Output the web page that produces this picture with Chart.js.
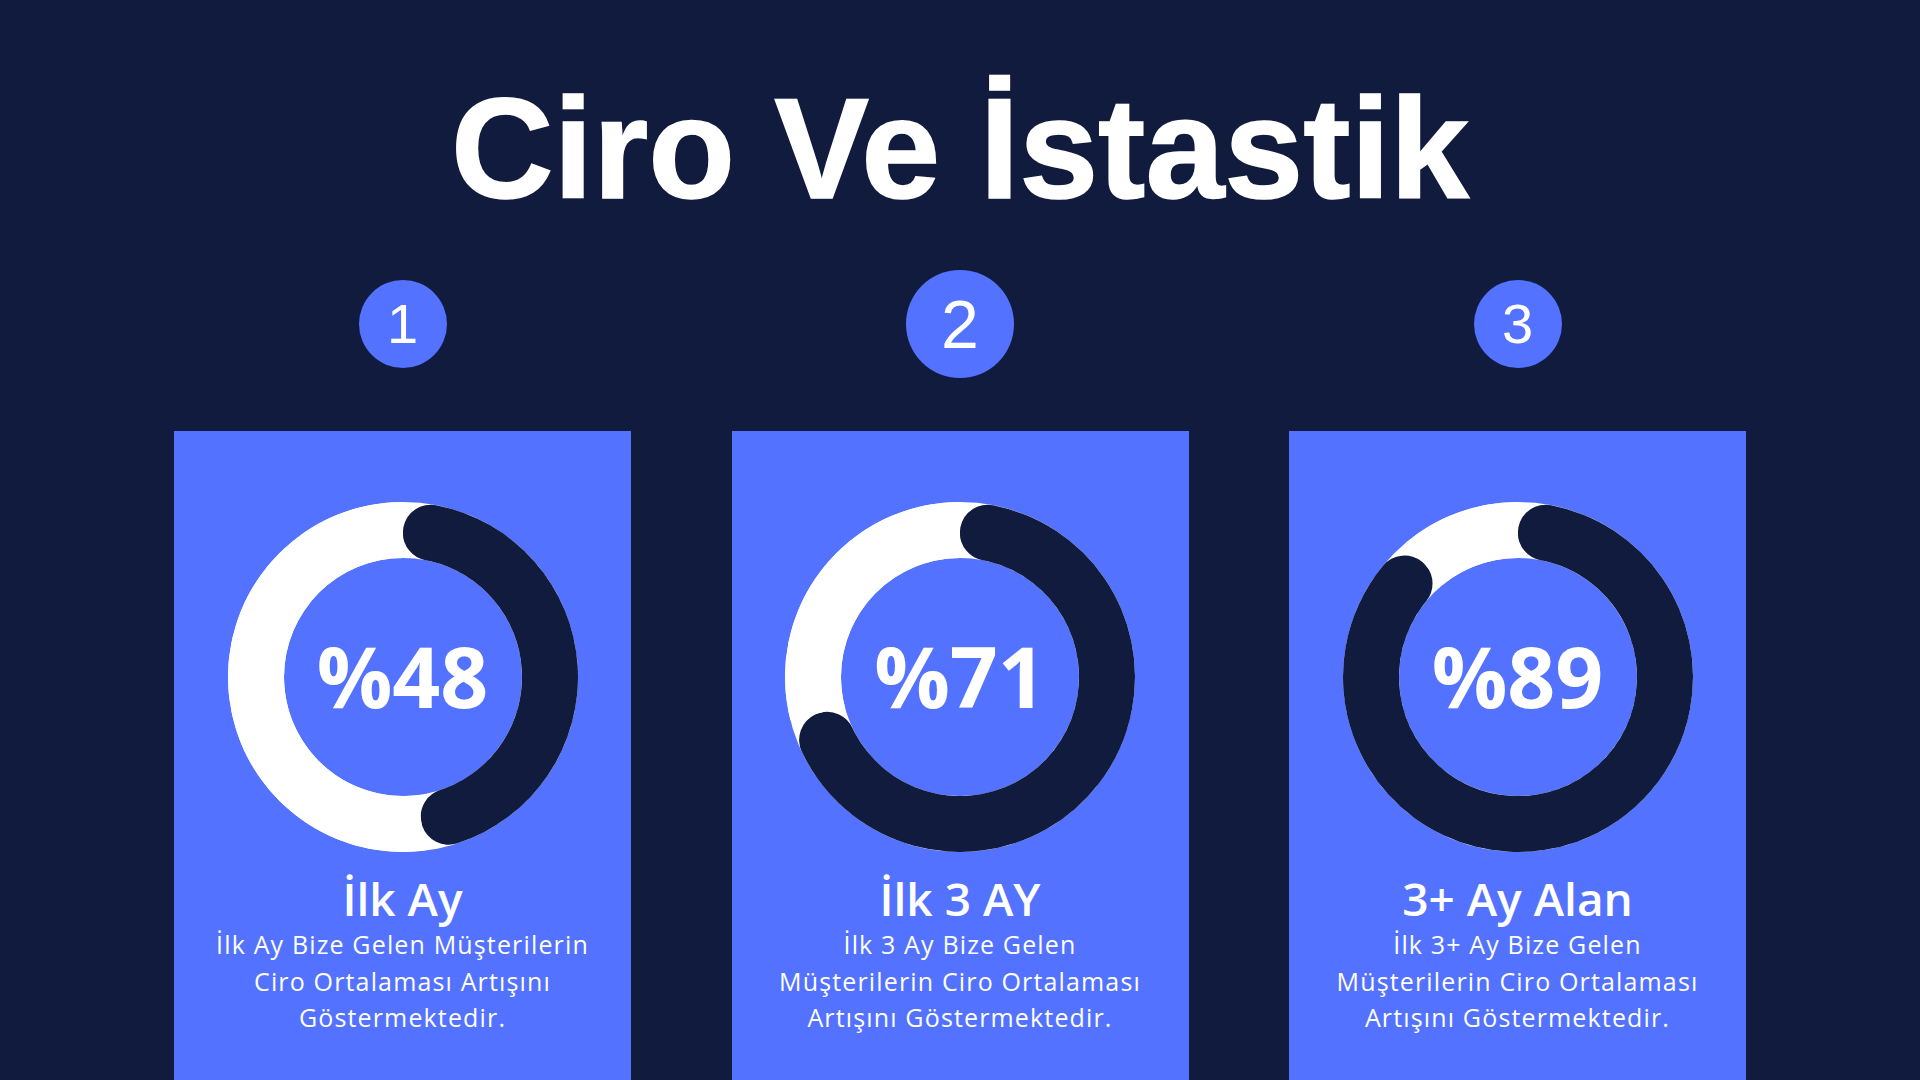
<!DOCTYPE html>
<html lang="tr">
<head>
<meta charset="utf-8">
<title>Ciro Ve İstastik</title>
<script src="https://cdn.jsdelivr.net/npm/chart.js@4.4.1/dist/chart.umd.min.js"></script>
<style>
  html, body { margin: 0; padding: 0; }
  body { width: 1920px; height: 1080px; background: #111B3E; overflow: hidden; position: relative; font-family: "Open Sans", sans-serif; color: #fff; }
  .title { position: absolute; left: 0; width: 1920px; top: 78px; text-align: center; font-family: "Liberation Sans", Arial, sans-serif; font-weight: 700; font-size: 142px; line-height: 142px; white-space: nowrap; -webkit-text-stroke: 1.5px #fff; }
  .step { position: absolute; border-radius: 50%; background: #5372FF; display: flex; align-items: center; justify-content: center; font-family: "Liberation Sans", Arial, sans-serif; font-weight: 400; line-height: 1; }
  .card { position: absolute; top: 431px; width: 457px; height: 649px; background: #5372FF; }
  .ring { position: absolute; top: 502px; width: 350px; height: 350px; }
  .pct { position: absolute; width: 350px; top: 634px; text-align: center; font-family: "Open Sans", sans-serif; font-weight: 700; font-size: 84px; line-height: 84px; white-space: nowrap; }
  .label { position: absolute; width: 457px; top: 875px; text-align: center; font-weight: 600; font-size: 46px; line-height: 46px; white-space: nowrap; }
  .desc { position: absolute; width: 457px; top: 926px; text-align: center; font-weight: 400; font-size: 25px; line-height: 36.5px; letter-spacing: 1.15px; white-space: nowrap; }
</style>
</head>
<body>
<div class="title" id="title"></div>
<div id="root"></div>
<script>
const titleText = 'Ciro Ve İstastik';
const categories = ['İlk Ay', 'İlk 3 AY', '3+ Ay Alan'];
const percentValues = [48, 71, 89];
const stepLabels = ['1', '2', '3'];
const descriptions = [
  ['İlk Ay Bize Gelen Müşterilerin', 'Ciro Ortalaması Artışını', 'Göstermektedir.'],
  ['İlk 3 Ay Bize Gelen', 'Müşterilerin Ciro Ortalaması', 'Artışını Göstermektedir.'],
  ['İlk 3+ Ay Bize Gelen', 'Müşterilerin Ciro Ortalaması', 'Artışını Göstermektedir.']
];

const NAVY = '#111B3E';
const WHITE = '#FFFFFF';
const cardLefts = [174, 731.5, 1289];
const centersX = [402.5, 960, 1517.5];
const stepR = [44, 54, 44];
const stepFont = [56, 68, 56];

document.getElementById('title').textContent = titleText;
const root = document.getElementById('root');

const trackPlugin = {
  id: 'whiteTrack',
  beforeDatasetsDraw(chart) {
    const arc = chart.getDatasetMeta(0).data[0];
    if (!arc) return;
    const p = arc.getProps(['x', 'y', 'innerRadius', 'outerRadius'], true);
    const ctx = chart.ctx;
    ctx.save();
    ctx.beginPath();
    ctx.arc(p.x, p.y, p.outerRadius, 0, Math.PI * 2);
    ctx.arc(p.x, p.y, p.innerRadius, 0, Math.PI * 2, true);
    ctx.closePath();
    ctx.fillStyle = WHITE;
    ctx.fill();
    ctx.restore();
  }
};

categories.forEach((cat, i) => {
  const step = document.createElement('div');
  step.className = 'step';
  const r = stepR[i];
  step.style.left = (centersX[i] - r) + 'px';
  step.style.top = (324 - r) + 'px';
  step.style.width = (2 * r) + 'px';
  step.style.height = (2 * r) + 'px';
  step.style.fontSize = stepFont[i] + 'px';
  step.textContent = stepLabels[i];
  root.appendChild(step);

  const card = document.createElement('div');
  card.className = 'card';
  card.style.left = cardLefts[i] + 'px';
  root.appendChild(card);

  const wrap = document.createElement('div');
  wrap.className = 'ring';
  wrap.style.left = (centersX[i] - 175) + 'px';
  const canvas = document.createElement('canvas');
  canvas.width = 350; canvas.height = 350;
  wrap.appendChild(canvas);
  root.appendChild(wrap);

  const pct = document.createElement('div');
  pct.className = 'pct';
  pct.style.left = (centersX[i] - 175) + 'px';
  pct.textContent = '%' + percentValues[i];
  root.appendChild(pct);

  const label = document.createElement('div');
  label.className = 'label';
  label.style.left = (centersX[i] - 228.5) + 'px';
  label.textContent = cat;
  root.appendChild(label);

  const desc = document.createElement('div');
  desc.className = 'desc';
  desc.style.left = (centersX[i] - 228.5) + 'px';
  descriptions[i].forEach(line => {
    const d = document.createElement('div');
    d.textContent = line;
    desc.appendChild(d);
  });
  root.appendChild(desc);

  new Chart(canvas, {
    type: 'doughnut',
    data: {
      labels: [cat, ''],
      datasets: [{
        data: [percentValues[i], 100 - percentValues[i]],
        backgroundColor: [NAVY, WHITE],
        borderWidth: 0,
        borderRadius: (c) => c.dataIndex === 0 ? 30 : 0,
        hoverOffset: 0,
        offset: 0
      }]
    },
    options: {
      responsive: false,
      animation: false,
      devicePixelRatio: 1,
      cutout: '68%',
      events: [],
      layout: { padding: 0 },
      plugins: { legend: { display: false }, tooltip: { enabled: false } }
    },
    plugins: [trackPlugin]
  });
});
</script>
</body>
</html>
